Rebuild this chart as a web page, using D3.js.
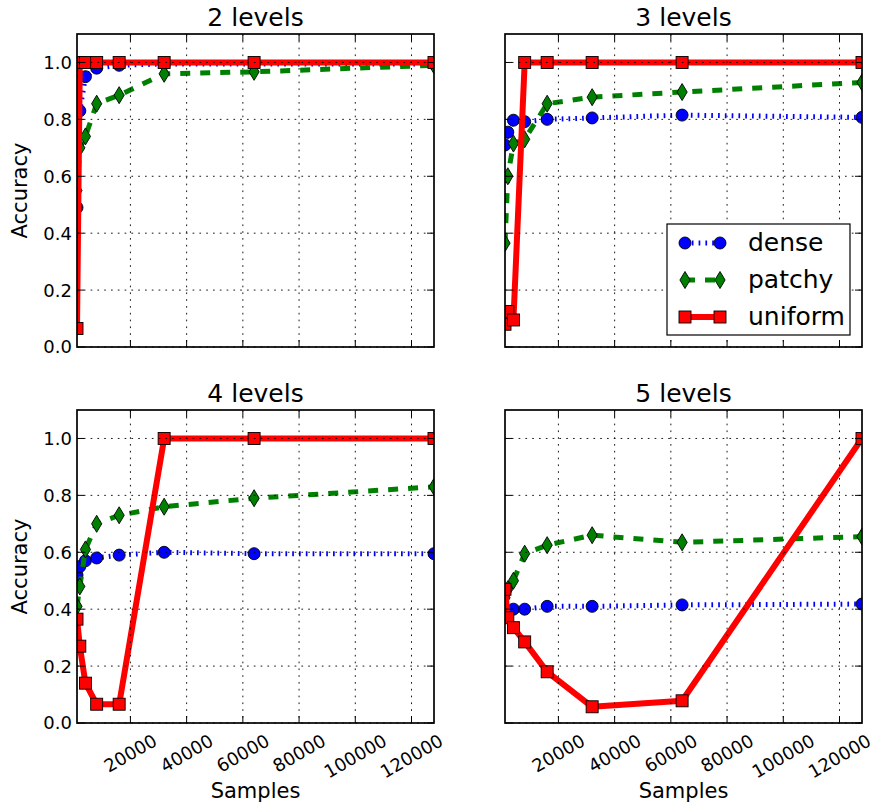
<!DOCTYPE html>
<html>
<head>
<meta charset="utf-8">
<script src="https://cdn.jsdelivr.net/npm/d3@7"></script>
<style>
  body { margin: 0; background: #fff; }
  svg { font-family: "DejaVu Sans", sans-serif; }
</style>
</head>
<body>
<div id="chart"></div>
<script>
// Data
const samples = [1000, 2000, 4000, 8000, 16000, 32000, 64000, 128000];
const panelTitles = ["2 levels", "3 levels", "4 levels", "5 levels"];
const seriesNames = ["dense", "patchy", "uniform"];

const dense = [
    [0.49, 0.83, 0.95, 0.98, 0.99, 0.995, 0.995, 0.995],
    [0.71, 0.755, 0.797, 0.792, 0.80, 0.805, 0.815, 0.807],
    [0.52, 0.55, 0.57, 0.58, 0.59, 0.60, 0.595, 0.595],
    [0.37, 0.39, 0.40, 0.40, 0.41, 0.41, 0.415, 0.418]
];
const patchy = [
    [0.55, 0.70, 0.74, 0.855, 0.885, 0.96, 0.967, 0.99],
    [0.365, 0.60, 0.715, 0.73, 0.855, 0.878, 0.896, 0.93],
    [0.41, 0.48, 0.61, 0.70, 0.73, 0.76, 0.79, 0.83],
    [0.44, 0.47, 0.50, 0.595, 0.625, 0.66, 0.635, 0.655]
];
const uniform = [
    [0.065, 1, 1, 1, 1, 1, 1, 1],
    [0.08, 0.125, 0.095, 1, 1, 1, 1, 1],
    [0.365, 0.27, 0.14, 0.066, 0.066, 1, 1, 1],
    [0.47, 0.37, 0.335, 0.285, 0.18, 0.057, 0.078, 1.0]
];

const xTicks = [20000, 40000, 60000, 80000, 100000, 120000];
const yTicks = [0, 0.2, 0.4, 0.6, 0.8, 1.0];

const width = 872;
const height = 805;

// panel geometry
const colX = [77, 505];
const rowY = [34, 410];
const panelW = 357;
const panelH = 313;

const svg = d3.select("#chart")
    .append("svg")
    .attr("width", width)
    .attr("height", height);

const x = d3.scaleLinear().domain([1000, 128000]).range([0, panelW]);
const y = d3.scaleLinear().domain([0, 1.1]).range([panelH, 0]);

// line / marker styles per series (matplotlib classic look)
const styles = {
    dense:   {color: "#0000ff", width: 5, dash: "1.7,5.1", marker: "circle"},
    patchy:  {color: "#008000", width: 5, dash: "10,10", marker: "diamond"},
    uniform: {color: "#ff0000", width: 6, dash: null, marker: "square"}
};
const seriesData = {dense: dense, patchy: patchy, uniform: uniform};

function drawMarker(sel, shape, cx, cy, color) {
    if (shape === "circle") {
        sel.append("circle").attr("cx", cx).attr("cy", cy).attr("r", 6)
            .attr("fill", color).attr("stroke", "#000").attr("stroke-width", 0.9);
    } else if (shape === "square") {
        sel.append("rect").attr("x", cx - 6).attr("y", cy - 6)
            .attr("width", 12).attr("height", 12)
            .attr("fill", color).attr("stroke", "#000").attr("stroke-width", 0.9);
    } else {
        sel.append("path")
            .attr("d", `M${cx},${cy - 8.5}L${cx + 5.1},${cy}L${cx},${cy + 8.5}L${cx - 5.1},${cy}Z`)
            .attr("fill", color).attr("stroke", "#000").attr("stroke-width", 0.9);
    }
}

const line = d3.line()
    .x(d => x(d[0]))
    .y(d => y(d[1]));

panelTitles.forEach((title, i) => {
    const col = i % 2;
    const row = Math.floor(i / 2);
    const g = svg.append("g")
        .attr("transform", `translate(${colX[col]},${rowY[row]})`);

    g.append("clipPath").attr("id", "clip" + i)
        .append("rect").attr("width", panelW).attr("height", panelH);

    const plot = g.append("g").attr("clip-path", `url(#clip${i})`);

    // series: line first, then its markers
    seriesNames.forEach(name => {
        const st = styles[name];
        const pts = samples.map((s, k) => [s, seriesData[name][i][k]]);
        plot.append("path")
            .attr("d", line(pts))
            .attr("fill", "none")
            .attr("stroke", st.color)
            .attr("stroke-width", st.width)
            .attr("stroke-dasharray", st.dash)
            .attr("stroke-linejoin", "round");
        pts.forEach(p => drawMarker(plot, st.marker, x(p[0]), y(p[1]), st.color));
    });

    // dotted grid (drawn above the data, as in classic matplotlib)
    g.selectAll(".vgrid").data(xTicks).enter().append("line")
        .attr("x1", d => x(d)).attr("x2", d => x(d))
        .attr("y1", 0).attr("y2", panelH)
        .attr("stroke", "#000").attr("stroke-width", 0.9)
        .attr("stroke-dasharray", "1.7,5.1");
    g.selectAll(".hgrid").data(yTicks).enter().append("line")
        .attr("x1", 0).attr("x2", panelW)
        .attr("y1", d => y(d)).attr("y2", d => y(d))
        .attr("stroke", "#000").attr("stroke-width", 0.9)
        .attr("stroke-dasharray", "1.7,5.1");

    // inward ticks on all four sides
    const tl = 7;
    xTicks.forEach(t => {
        g.append("line").attr("x1", x(t)).attr("x2", x(t)).attr("y1", panelH).attr("y2", panelH - tl)
            .attr("stroke", "#000").attr("stroke-width", 1);
        g.append("line").attr("x1", x(t)).attr("x2", x(t)).attr("y1", 0).attr("y2", tl)
            .attr("stroke", "#000").attr("stroke-width", 1);
    });
    yTicks.forEach(t => {
        g.append("line").attr("x1", 0).attr("x2", tl).attr("y1", y(t)).attr("y2", y(t))
            .attr("stroke", "#000").attr("stroke-width", 1);
        g.append("line").attr("x1", panelW).attr("x2", panelW - tl).attr("y1", y(t)).attr("y2", y(t))
            .attr("stroke", "#000").attr("stroke-width", 1);
    });

    // frame
    g.append("rect")
        .attr("width", panelW).attr("height", panelH)
        .attr("fill", "none").attr("stroke", "#000").attr("stroke-width", 1.7);

    // title
    g.append("text")
        .attr("x", panelW / 2).attr("y", -8)
        .attr("text-anchor", "middle")
        .style("font-size", "25px")
        .text(title);

    // y tick labels + label on the left column
    if (col === 0) {
        g.selectAll(".ylab").data(yTicks).enter().append("text")
            .attr("x", -5).attr("y", d => y(d)).attr("dy", "0.36em")
            .attr("text-anchor", "end")
            .style("font-size", "18px")
            .text(d => d3.format(".1f")(d));
        g.append("text")
            .attr("transform", `translate(-50,${panelH / 2}) rotate(-90)`)
            .attr("text-anchor", "middle")
            .style("font-size", "21px")
            .text("Accuracy");
    }

    // rotated x tick labels + label on the bottom row
    if (row === 1) {
        xTicks.forEach(t => {
            const lab = g.append("text")
                .attr("text-anchor", "middle")
                .attr("dy", "0.36em")
                .style("font-size", "18px")
                .text(t);
            const w = lab.node().getComputedTextLength();
            const cy = panelH + 8 + (w * 0.5 + 15.6) / 2;
            lab.attr("x", x(t)).attr("y", cy)
                .attr("transform", `rotate(-30,${x(t)},${cy})`);
        });
        g.append("text")
            .attr("x", panelW / 2).attr("y", panelH + 75)
            .attr("text-anchor", "middle")
            .style("font-size", "21px")
            .text("Samples");
    }

    // legend only in the "3 levels" panel
    if (i === 1) {
        const lg = g.append("g").attr("transform", "translate(162,190)");
        lg.append("rect")
            .attr("width", 183).attr("height", 111)
            .attr("fill", "#fff").attr("stroke", "#000").attr("stroke-width", 1.2);
        seriesNames.forEach((name, k) => {
            const st = styles[name];
            const ly = 19 + k * 37;
            lg.append("line")
                .attr("x1", 18).attr("x2", 53).attr("y1", ly).attr("y2", ly)
                .attr("stroke", st.color).attr("stroke-width", st.width)
                .attr("stroke-dasharray", st.dash);
            drawMarker(lg, st.marker, 18, ly, st.color);
            drawMarker(lg, st.marker, 53, ly, st.color);
            lg.append("text")
                .attr("x", 81).attr("y", ly).attr("dy", "0.33em")
                .style("font-size", "25px")
                .text(name);
        });
    }
});
</script>
</body>
</html>
